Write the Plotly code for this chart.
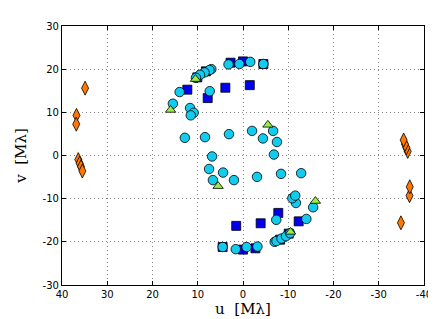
import plotly.graph_objects as go

# cyan circles
circle_u = [3.2, 0.8, -1.6, -4.5, 7.0, 7.4, 8.5, 9.5, 10.4, 14.0, 7.35, 15.5, 11.7, 10.9, 11.55,
            12.85, 8.4, 3.1, -2.0, -6.65, -4.4, -7.5, 6.83,
            -3.2, -0.8, 1.6, 4.5, -7.0, -7.4, -8.5, -9.5, -10.4, -14.0, -7.35, -15.5, -11.7, -10.9, -11.55,
            -12.85, -8.4, -3.1, 2.0, 6.65, 4.4, 7.5, -6.83]
circle_v = [21.1, 21.2, 21.7, 21.2, 20.0, 19.8, 19.25, 18.7, 18.0, 14.7, 14.9, 12.0, 11.0, 9.9, 9.3,
            4.1, 4.25, 4.95, 5.7, 5.7, 3.95, 3.13, -0.22,
            -21.1, -21.2, -21.7, -21.2, -20.0, -19.8, -19.25, -18.7, -18.0, -14.7, -14.9, -12.0, -11.0, -9.9, -9.3,
            -4.1, -4.25, -4.95, -5.7, -5.7, -3.95, -3.13, 0.22]

# blue squares
square_u = [2.75, 0.0, -4.5, 8.2, 10.1, 12.3, 3.9, -1.5, 7.8,
            -2.75, 0.0, 4.5, -8.2, -10.1, -12.3, -3.9, 1.5, -7.8]
square_v = [21.5, 21.8, 21.2, 19.5, 18.1, 15.25, 15.7, 16.3, 13.3,
            -21.5, -21.8, -21.2, -19.5, -18.1, -15.25, -15.7, -16.3, -13.3]

# green triangles
triangle_u = [10.5, 16.0, -5.5, -10.5, -16.0, 5.5]
triangle_v = [17.7, 10.55, 7.1, -17.7, -10.55, -7.1]

# orange diamonds
diamond_u = [34.9, 36.8, 36.85, 36.4, 36.1, 35.8, 35.5,
             -34.9, -36.8, -36.85, -36.4, -36.1, -35.8, -35.5]
diamond_v = [15.6, 9.3, 7.25, -0.95, -1.8, -2.6, -3.6,
             -15.6, -9.3, -7.25, 0.95, 1.8, 2.6, 3.6]

x_ticks = [40, 30, 20, 10, 0, -10, -20, -30, -40]
y_ticks = [30, 20, 10, 0, -10, -20, -30]

edge = dict(color="black", width=0.8)
fig = go.Figure()
fig.add_trace(go.Scatter(x=square_u, y=square_v, mode="markers",
                         marker=dict(symbol="square", size=9, color="#0000ee", line=edge)))
fig.add_trace(go.Scatter(x=circle_u, y=circle_v, mode="markers",
                         marker=dict(symbol="circle", size=9.5, color="#11ccee", line=edge)))
fig.add_trace(go.Scatter(x=triangle_u, y=triangle_v, mode="markers",
                         marker=dict(symbol="triangle-up", size=9, color="#99ee44", line=edge)))
fig.add_trace(go.Scatter(x=diamond_u, y=diamond_v, mode="markers",
                         marker=dict(symbol="diamond-tall", size=10, color="#ff7700", line=edge)))

axis_common = dict(showline=True, linecolor="black", linewidth=1.2, mirror="ticks",
                   ticks="inside", ticklen=4, tickcolor="black",
                   showgrid=True, gridcolor="#888888", griddash="1px,3px", gridwidth=1,
                   zeroline=False,
                   tickfont=dict(family="DejaVu Sans", size=10, color="black"))

fig.update_xaxes(range=[40, -40], tickvals=x_ticks, ticktext=[str(t) for t in x_ticks],
                 title=dict(text="u  [M\u03bb]", font=dict(family="DejaVu Serif", size=15, color="black"),
                            standoff=4),
                 **axis_common)
fig.update_yaxes(range=[-30, 30], tickvals=y_ticks, ticktext=[str(t) for t in y_ticks],
                 title=dict(text="v  [M\u03bb]", font=dict(family="DejaVu Serif", size=15, color="black"),
                            standoff=12),
                 **axis_common)

fig.update_layout(width=436, height=319, showlegend=False,
                  margin=dict(l=48, r=15, t=14, b=37),
                  paper_bgcolor="white", plot_bgcolor="white")

fig.write_html("out.html")
